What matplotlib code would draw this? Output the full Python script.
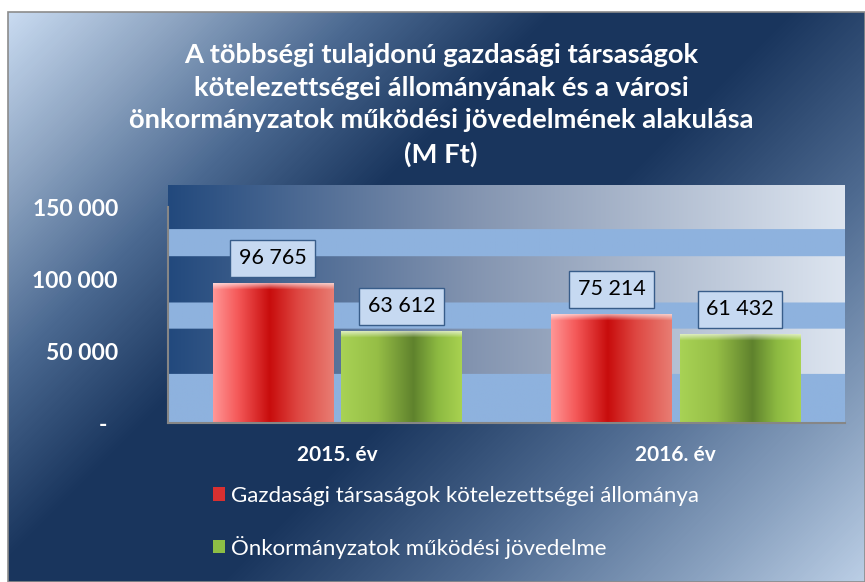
import numpy as np
import matplotlib
matplotlib.use('Agg')
import matplotlib.pyplot as plt
from matplotlib.patches import Patch, Rectangle

plt.rcParams['font.family'] = ['Lato', 'DejaVu Sans']

# data
years = ['2015. év', '2016. év']
liabilities = [96765, 75214]
income = [63612, 61432]
series_names = ['Gazdasági társaságok kötelezettségei állománya',
                'Önkormányzatok működési jövedelme']
y_ticks = [0, 50000, 100000, 150000]
y_tick_labels = ['-  ', '50 000', '100 000', '150 000']
title = ('A többségi tulajdonú gazdasági társaságok\n'
         'kötelezettségei állományának és a városi\n'
         'önkormányzatok működési jövedelmének alakulása\n'
         '(M Ft)')


def ramp(stops, n):
    # piecewise linear colour ramp, stops given as (pos, (r, g, b))
    pos = np.array([s[0] for s in stops])
    cols = np.array([s[1] for s in stops]) / 255.0
    t = np.linspace(0, 1, n)
    return np.stack([np.interp(t, pos, cols[:, i]) for i in range(3)], axis=1)


fig = plt.figure(figsize=(8.65, 5.82), dpi=100)

# chart background, diagonal gradient
W, H = 857, 570
bg_stops = [(0, (201, 219, 241)), (0.12, (142, 165, 194)), (0.25, (74, 104, 144)),
            (0.38, (26, 54, 94)), (0.55, (26, 54, 94)), (0.72, (78, 106, 144)),
            (0.88, (138, 162, 192)), (1, (188, 207, 230))]
xx, yy = np.meshgrid(np.arange(W), np.arange(H))
t = (xx + yy) / (W + H - 2)
lut = ramp(bg_stops, 512)
bg = lut[(t * 511).astype(int)]
bg_ax = fig.add_axes([8 / 865, 0, W / 865, H / 582])
bg_ax.imshow(bg, aspect='auto', extent=(0, 1, 0, 1))
bg_ax.axis('off')
fig.patches.append(Rectangle((8 / 865, 0), W / 865, H / 582, transform=fig.transFigure,
                             fill=False, ec='#8C8C8C', lw=1.2))

ymax = 165300
ax = fig.add_axes([168 / 865, 159 / 582, 677 / 865, 238 / 582])
ax.set_facecolor('none')
ax.set_xlim(-0.5, 1.5)
ax.set_ylim(0, ymax)

# striped plot area
ncol = 400
dark = ramp([(0, (34, 73, 125)), (0.45, (131, 148, 176)), (1, (221, 229, 240))], ncol)
light = np.array([142, 178, 222]) / 255.0
dark_bands = [(0.206, 0.395), (0.504, 0.697), (0.811, 1.0)]
rows = 238
panel = np.zeros((rows, ncol, 3))
for i in range(rows):
    f = 1 - (i + 0.5) / rows
    if any(a <= f < b for a, b in dark_bands):
        panel[i] = dark
    else:
        panel[i] = light
ax.imshow(panel, extent=(0, 1, 0, 1), transform=ax.transAxes, aspect='auto', zorder=0)
ax.set_xlim(-0.5, 1.5)
ax.set_ylim(0, ymax)

x = np.arange(len(years))
w = 0.357
off = 0.19
b1 = ax.bar(x - off, liabilities, w, color='none', zorder=3)
b2 = ax.bar(x + off, income, w, color='none', zorder=3)

red_stops = [(0, (255, 150, 150)), (0.2, (245, 90, 90)), (0.47, (200, 12, 12)),
             (0.7, (222, 70, 65)), (1.0, (232, 125, 115))]
green_stops = [(0, (168, 210, 85)), (0.3, (150, 190, 70)), (0.6, (95, 130, 45)),
               (0.8, (140, 185, 65)), (1.0, (168, 210, 80))]


def paint(bar, stops):
    x0, y0 = bar.get_x(), bar.get_y()
    bw, bh = bar.get_width(), bar.get_height()
    p = ax.transData.transform([(0, 0), (0, bh)])
    nrow = max(int(p[1, 1] - p[0, 1]), 2)
    strip = ramp(stops, 120)
    img = np.repeat(strip[None, :, :], nrow, axis=0)
    for k in range(6):
        a = 0.6 * (1 - k / 6)
        img[k] = img[k] * (1 - a) + a
    ax.imshow(img, extent=(x0, x0 + bw, y0, y0 + bh), aspect='auto', zorder=3,
              interpolation='bilinear')


for bars, stops in [(b1, red_stops), (b2, green_stops)]:
    for bar in bars:
        paint(bar, stops)
        ax.annotate(f'{int(bar.get_height()):,}'.replace(',', ' '),
                    (bar.get_x() + bar.get_width() / 2, bar.get_height()),
                    xytext=(0, 11), textcoords='offset points', ha='center', va='bottom',
                    fontsize=15.5, color='black', zorder=5,
                    bbox=dict(boxstyle='square,pad=0.4', fc='#C6D9F1', ec='#385D8A', lw=1))

ax.set_xlim(-0.5, 1.5)
ax.set_ylim(0, ymax)

for s in ['top', 'right']:
    ax.spines[s].set_visible(False)
ax.spines['left'].set_bounds(0, 150000)
for s in ['left', 'bottom']:
    ax.spines[s].set_color('#868686')
    ax.spines[s].set_linewidth(1.5)
    ax.spines[s].set_zorder(4)

ax.set_yticks(y_ticks, y_tick_labels)
ax.set_xticks(x, years)
ax.tick_params(axis='y', length=0, pad=36, labelsize=16.5, labelcolor='white')
ax.tick_params(axis='x', length=0, pad=16, labelsize=15, labelcolor='white')
for lab in ax.get_yticklabels() + ax.get_xticklabels():
    lab.set_fontweight('bold')

fig.text(441 / 865, 1 - 105 / 582, title, ha='center', va='center', color='white',
         fontsize=19.7, fontweight='bold', linespacing=1.42)

fig.legend(handles=[Patch(fc='#D93030'), Patch(fc='#8DBE45')], labels=series_names,
           loc='upper left', bbox_to_anchor=(213 / 865, 1 - 486 / 582), frameon=False,
           labelcolor='white', fontsize=16, handlelength=0.55, handleheight=0.55,
           handletextpad=0.25, labelspacing=1.33, borderaxespad=0, borderpad=0)

fig.savefig('out.png', dpi=100)
